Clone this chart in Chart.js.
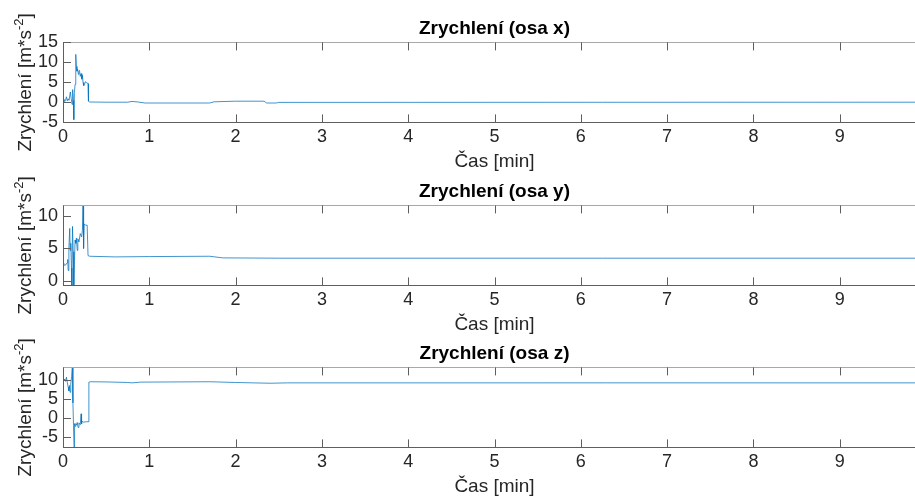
<!DOCTYPE html>
<html>
<head>
<meta charset="utf-8">
<script src="https://cdn.jsdelivr.net/npm/chart.js@4.4.1/dist/chart.umd.min.js"></script>
<style>
body{margin:0;background:#fff;}
#plocha{position:relative;width:915px;height:499px;overflow:hidden;}
#plocha canvas{position:absolute;left:0;}
</style>
</head>
<body>
<div id="plocha">
<canvas id="grafX" width="930" height="173" style="top:0px"></canvas>
<canvas id="grafY" width="930" height="171" style="top:165px"></canvas>
<canvas id="grafZ" width="930" height="171" style="top:327px"></canvas>
</div>
<script>
// cas v minutach, zrychleni v m*s^-2
const ticksCas = [0, 1, 2, 3, 4, 5, 6, 7, 8, 9];
const casMax = 10;

const casX = [0, 0.01, 0.02, 0.03, 0.04, 0.05, 0.06, 0.07, 0.085, 0.095, 0.105, 0.112, 0.12, 0.125, 0.132, 0.14, 0.148, 0.155, 0.162, 0.17, 0.178, 0.185, 0.192, 0.2, 0.21, 0.218, 0.225, 0.232, 0.24, 0.25, 0.262, 0.275, 0.29, 0.295, 0.31, 0.5, 0.75, 0.8, 0.87, 0.95, 1.7, 1.75, 2.0, 2.33, 2.36, 2.47, 2.5, 10];
const zrychX = [0.3, 0.8, 0.2, 0.6, 1.4, 0.4, 0.9, 0.5, 2.6, 1.0, -0.5, 3.2, 0.5, -4.3, 2.5, 4.5, 12.0, 9.0, 7.8, 8.3, 7.0, 7.8, 8.0, 6.5, 7.2, 5.8, 6.8, 5.0, 4.2, 4.6, 5.2, 4.9, 4.7, 0.3, 0.1, 0.05, 0.05, 0.25, 0.1, -0.15, -0.15, 0.15, 0.3, 0.3, -0.15, -0.15, 0.0, 0.05];

const casY = [0, 0.01, 0.02, 0.035, 0.048, 0.055, 0.06, 0.068, 0.078, 0.083, 0.09, 0.098, 0.103, 0.11, 0.118, 0.125, 0.133, 0.14, 0.148, 0.155, 0.165, 0.172, 0.185, 0.2, 0.215, 0.225, 0.232, 0.237, 0.24, 0.245, 0.26, 0.28, 0.29, 0.31, 0.6, 1.0, 1.7, 1.85, 2.5, 10];
const zrychY = [2.7, 2.5, 2.4, 2.5, 2.8, 3.3, 1.6, 5.0, 8.1, 4.7, 5.8, 2.0, -0.7, 8.4, 4.5, -0.7, 3.0, 6.3, 5.8, 6.6, 4.7, 6.5, 6.0, 7.3, 6.8, 7.8, 11.65, 9.2, 5.0, 8.8, 8.6, 8.6, 3.9, 3.8, 3.7, 3.75, 3.8, 3.55, 3.5, 3.5];

const casZ = [0, 0.01, 0.02, 0.03, 0.04, 0.05, 0.06, 0.068, 0.075, 0.082, 0.09, 0.1, 0.108, 0.115, 0.122, 0.128, 0.134, 0.14, 0.148, 0.158, 0.165, 0.175, 0.185, 0.2, 0.21, 0.215, 0.222, 0.24, 0.27, 0.29, 0.3, 0.32, 0.5, 0.75, 0.8, 0.9, 1.7, 2.0, 2.4, 2.6, 10];
const zrychZ = [10.2, 9.8, 10.3, 9.7, 10.8, 9.4, 8.2, 7.2, 8.6, 6.8, 9.0, 11.0, 13.4, 4.0, -2.0, -7.8, -1.5, -2.2, -1.5, -1.9, -1.2, -2.5, -1.3, -1.8, 1.1, -1.6, -0.9, -1.1, -1.0, -1.0, 9.5, 9.6, 9.55, 9.4, 9.3, 9.5, 9.6, 9.4, 9.2, 9.3, 9.3];

const ticksOsaX = [-5, 0, 5, 10, 15];
const ticksOsaY = [0, 5, 10];
const ticksOsaZ = [-5, 0, 5, 10];

const mezeX = [-5, 15];
const mezeY = [-0.7, 11.65];
const mezeZ = [-7.8, 13.4];

const pismo = '"Liberation Sans", Arial, sans-serif';
Chart.defaults.font.family = pismo;

// znacky os dovnitr + horni okraj
const znacky = {
    id: 'znacky',
    afterDatasetsDraw(chart) {
        const ctx = chart.ctx, a = chart.chartArea;
        const sx = chart.scales.x, sy = chart.scales.y;
        ctx.save();
        ctx.lineWidth = 1;
        ctx.strokeStyle = '#a8a8a8';
        ctx.beginPath();
        ctx.moveTo(a.left, Math.round(a.top) + 0.5);
        ctx.lineTo(a.right, Math.round(a.top) + 0.5);
        ctx.stroke();
        ctx.strokeStyle = '#5e5e5e';
        ctx.beginPath();
        sx.ticks.forEach(t => {
            const p = Math.round(sx.getPixelForValue(t.value)) + 0.5;
            ctx.moveTo(p, a.bottom); ctx.lineTo(p, a.bottom - 8);
            ctx.moveTo(p, a.top); ctx.lineTo(p, a.top + 8);
        });
        sy.ticks.forEach(t => {
            const p = Math.round(sy.getPixelForValue(t.value)) + 0.5;
            ctx.moveTo(a.left, p); ctx.lineTo(a.left + 8, p);
        });
        ctx.stroke();
        ctx.restore();
    }
};

// popisek osy y s hornim indexem
const popiskaY = {
    id: 'popiskaY',
    afterDraw(chart) {
        const ctx = chart.ctx, a = chart.chartArea;
        const velke = '19px ' + pismo;
        const male = '13px ' + pismo;
        ctx.save();
        ctx.font = velke;
        const w1 = ctx.measureText('Zrychlení [m*s').width;
        const w3 = ctx.measureText(']').width;
        ctx.font = male;
        const w2 = ctx.measureText('-2').width;
        ctx.translate(31, (a.top + a.bottom) / 2);
        ctx.rotate(-Math.PI / 2);
        ctx.fillStyle = '#262626';
        ctx.textBaseline = 'alphabetic';
        let x = -(w1 + w2 + w3) / 2;
        ctx.font = velke; ctx.fillText('Zrychlení [m*s', x, 0); x += w1;
        ctx.font = male; ctx.fillText('-2', x, -8); x += w2;
        ctx.font = velke; ctx.fillText(']', x, 0);
        ctx.restore();
    }
};

function graf(id, titulek, cas, hodnoty, meze, ticksY, odsazeni) {

    new Chart(document.getElementById(id), {
        type: 'line',
        data: {
            datasets: [{
                data: cas.map((t, i) => ({x: t, y: hodnoty[i]})),
                borderColor: 'rgba(0,114,189,0.75)',
                borderWidth: 1,
                pointRadius: 0,
                tension: 0
            }]
        },
        options: {
            responsive: false,
            animation: false,
            layout: {padding: {top: odsazeni, left: 0, right: 4, bottom: 0}},
            plugins: {
                legend: {display: false},
                tooltip: {enabled: false},
                title: {
                    display: true,
                    fullSize: false,
                    text: titulek,
                    color: '#000',
                    font: {size: 19, weight: 'bold'},
                    padding: {top: 0, bottom: 2.6}
                }
            },
            scales: {
                x: {
                    type: 'linear',
                    min: 0,
                    max: casMax,
                    afterBuildTicks: s => { s.ticks = ticksCas.map(v => ({value: v})); },
                    afterFit: s => { s.height = 50.6; },
                    grid: {drawOnChartArea: false, drawTicks: false},
                    border: {color: '#5e5e5e'},
                    ticks: {color: '#262626', font: {size: 18}, padding: 4, maxRotation: 0, autoSkip: false},
                    title: {display: true, text: 'Čas [min]', color: '#262626', font: {size: 19}, padding: 0}
                },
                y: {
                    min: meze[0],
                    max: meze[1],
                    afterBuildTicks: s => { s.ticks = ticksY.map(v => ({value: v})); },
                    afterFit: s => { s.width = 63; },
                    grid: {drawOnChartArea: false, drawTicks: false},
                    border: {color: '#5e5e5e'},
                    ticks: {color: '#262626', font: {size: 18}, padding: 5, autoSkip: false}
                }
            }
        },
        plugins: [znacky, popiskaY]
    });

}

graf('grafX', 'Zrychlení (osa x)', casX, zrychX, mezeX, ticksOsaX, 17);
graf('grafY', 'Zrychlení (osa y)', casY, zrychY, mezeY, ticksOsaY, 15);
graf('grafZ', 'Zrychlení (osa z)', casZ, zrychZ, mezeZ, ticksOsaZ, 15);
</script>
</body>
</html>
